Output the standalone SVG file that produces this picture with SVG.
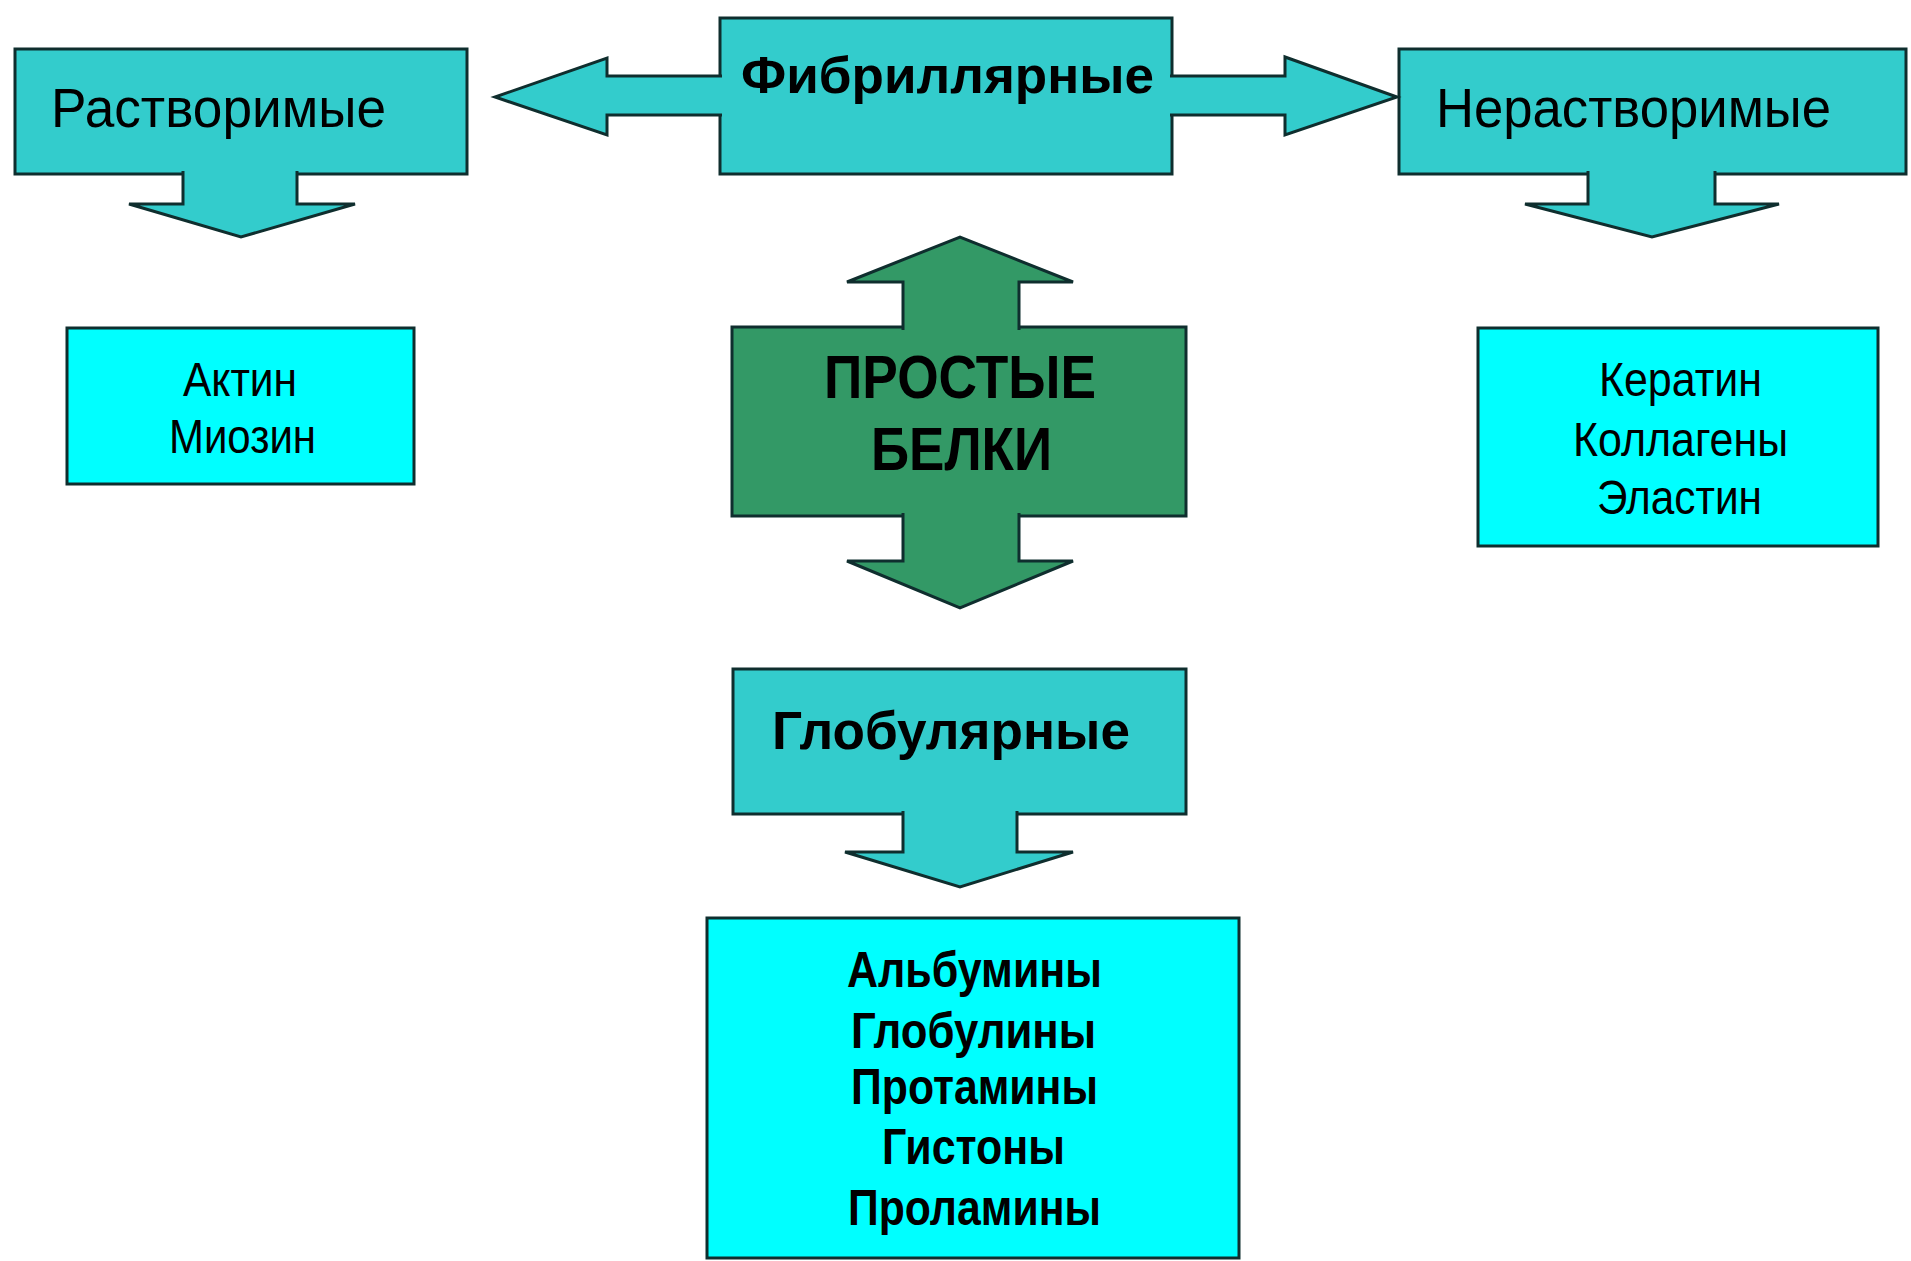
<svg xmlns="http://www.w3.org/2000/svg" width="1911" height="1261" viewBox="0 0 1911 1261">
<style>
.teal{fill:#33CCCC;stroke:#0f2e2e;stroke-width:3;stroke-linejoin:miter}
.cyan{fill:#00FFFF;stroke:#0f2e2e;stroke-width:3}
.green{fill:#339966;stroke:#0f2e2e;stroke-width:3;stroke-linejoin:miter}
.t{font-family:"Liberation Sans",Arial,sans-serif;fill:#000}
.b{font-weight:bold}
</style>
<rect width="1911" height="1261" fill="#ffffff"/>
<g id="rastvorimye">
<rect class="teal" x="15" y="49" width="452" height="125"/>
<text class="t" x="51" y="127" font-size="56" textLength="335" lengthAdjust="spacingAndGlyphs">Растворимые</text>
</g>
<g id="fibrillyarnye">
<rect class="teal" x="720" y="18" width="452" height="156"/>
<text class="t b" x="741" y="93" font-size="52" textLength="413" lengthAdjust="spacingAndGlyphs">Фибриллярные</text>
</g>
<g id="nerastvorimye">
<rect class="teal" x="1399" y="49" width="507" height="125"/>
<text class="t" x="1436" y="127" font-size="56" textLength="395" lengthAdjust="spacingAndGlyphs">Нерастворимые</text>
</g>
<g id="aktin-miozin">
<rect class="cyan" x="67" y="328" width="347" height="156"/>
<text class="t" x="183" y="396" font-size="48" textLength="114" lengthAdjust="spacingAndGlyphs">Актин</text>
<text class="t" x="169" y="453" font-size="48" textLength="147" lengthAdjust="spacingAndGlyphs">Миозин</text>
</g>
<g id="prostye-belki">
<rect class="green" x="732" y="327" width="454" height="189"/>
<text class="t b" x="824" y="398" font-size="62" textLength="272" lengthAdjust="spacingAndGlyphs">ПРОСТЫЕ</text>
<text class="t b" x="871" y="470" font-size="62" textLength="181" lengthAdjust="spacingAndGlyphs">БЕЛКИ</text>
</g>
<g id="keratin">
<rect class="cyan" x="1478" y="328" width="400" height="218"/>
<text class="t" x="1599" y="396" font-size="48" textLength="163" lengthAdjust="spacingAndGlyphs">Кератин</text>
<text class="t" x="1573" y="456" font-size="48" textLength="215" lengthAdjust="spacingAndGlyphs">Коллагены</text>
<text class="t" x="1597" y="514" font-size="48" textLength="165" lengthAdjust="spacingAndGlyphs">Эластин</text>
</g>
<g id="globulyarnye">
<rect class="teal" x="733" y="669" width="453" height="145"/>
<text class="t b" x="772" y="749" font-size="54" textLength="358" lengthAdjust="spacingAndGlyphs">Глобулярные</text>
</g>
<g id="globular-list">
<rect class="cyan" x="707" y="918" width="532" height="340"/>
<text class="t b" x="847" y="987" font-size="50" textLength="255" lengthAdjust="spacingAndGlyphs">Альбумины</text>
<text class="t b" x="851" y="1048" font-size="50" textLength="245" lengthAdjust="spacingAndGlyphs">Глобулины</text>
<text class="t b" x="851" y="1104" font-size="50" textLength="247" lengthAdjust="spacingAndGlyphs">Протамины</text>
<text class="t b" x="882" y="1164" font-size="50" textLength="183" lengthAdjust="spacingAndGlyphs">Гистоны</text>
<text class="t b" x="848" y="1225" font-size="50" textLength="253" lengthAdjust="spacingAndGlyphs">Проламины</text>
</g>
<g id="connectors">
<path class="teal" d="M722,76 H607 V58 L495,97 L607,135 V115 H722"/>
<path class="teal" d="M1170,76 H1285 V57 L1397,97 L1285,135 V115 H1170"/>
<path class="teal" d="M183,171 V204 H129 L241,237 L355,204 H297 V171"/>
<path class="teal" d="M1588,171 V204 H1525 L1652,237 L1779,204 H1715 V171"/>
<path class="green" d="M903,330 V282 H847 L960,237 L1073,282 H1019 V330"/>
<path class="green" d="M903,513 V561 H847 L960,608 L1073,561 H1019 V513"/>
<path class="teal" d="M903,811 V852 H845 L960,887 L1073,852 H1017 V811"/>
</g>
</svg>
